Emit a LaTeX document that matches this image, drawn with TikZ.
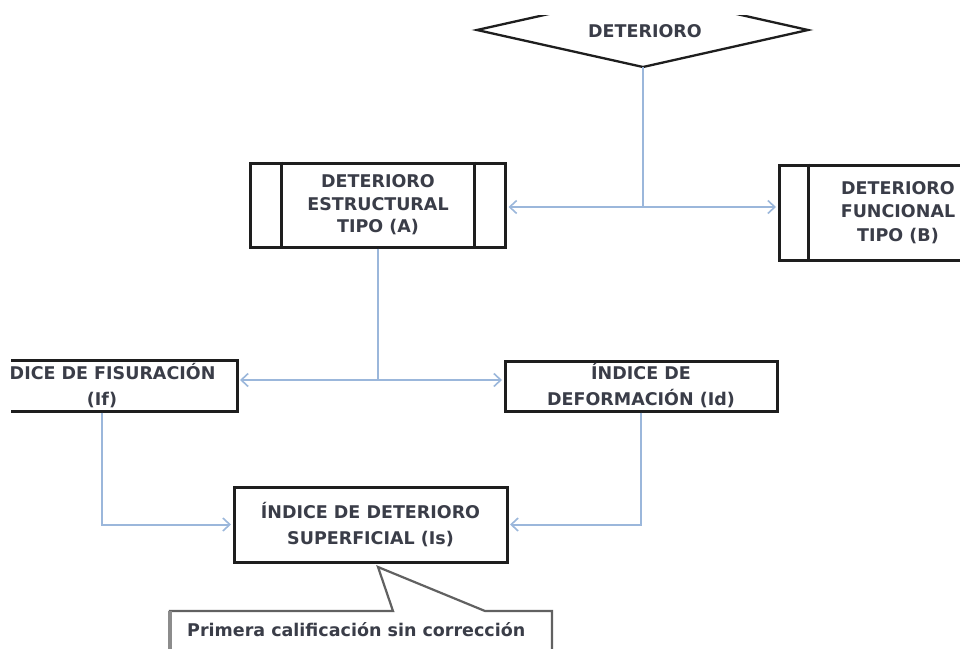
\documentclass[tikz,border=0pt]{standalone}
\usepackage{fontspec}
\setmainfont{DejaVu Sans}
\usetikzlibrary{arrows.meta}
\definecolor{conn}{HTML}{9BB7DB}
\definecolor{txt}{HTML}{3A3D48}
\definecolor{edge}{HTML}{1E1E1E}
\begin{document}
\begin{tikzpicture}[x=1pt,y=-1pt,
  box/.style={draw=edge, line width=3pt, rectangle, inner sep=0pt, align=center,
    text=txt, font=\bfseries\fontsize{17.5}{26}\selectfont},
  link/.style={draw=conn, line width=2pt},
  arr/.style={link, shorten >=1.5pt, -{Straight Barb[length=7pt,width=13pt,line width=1.6pt]}},
  lbl/.style={text=txt, font=\bfseries\fontsize{17.5}{24}\selectfont, inner sep=0pt}]
\useasboundingbox (0,0) rectangle (960,648);
\fill[white] (0,0) rectangle (960,648);
\begin{scope}
\clip (11,15) rectangle (960,648);
% decision diamond
\coordinate (dl) at (477,30);
\coordinate (dr) at (808,30);
\coordinate (db) at (643,67);
\coordinate (dt) at (643,-7);
\draw[line width=2.3pt, edge] (dl) -- (dt) -- (dr) -- (db) -- cycle;
\node[lbl] (det) at (645,31) {DETERIORO};
% type boxes
\node[box, minimum width=255, minimum height=84, font=\bfseries\fontsize{17.5}{22.5}\selectfont]
  (A) at (378,205) {DETERIORO\\ESTRUCTURAL\\TIPO (A)};
\draw[edge, line width=3pt] ([xshift=32pt]A.north west) -- ([xshift=32pt]A.south west);
\draw[edge, line width=3pt] ([xshift=-33pt]A.north east) -- ([xshift=-33pt]A.south east);
\node[box, minimum width=238, minimum height=95, font=\bfseries\fontsize{17.5}{23.5}\selectfont]
  (B) at (898,212.5) {DETERIORO\\FUNCIONAL\\TIPO (B)};
\draw[edge, line width=3pt] ([xshift=31pt]B.north west) -- ([xshift=31pt]B.south west);
\draw[edge, line width=3pt] ([xshift=-31pt]B.north east) -- ([xshift=-31pt]B.south east);
% index boxes
\node[box, minimum width=270, minimum height=51] (If) at (102,385.5) {ÍNDICE DE FISURACIÓN\\(If)};
\node[box, minimum width=272, minimum height=50] (Id) at (641,386) {ÍNDICE DE\\DEFORMACIÓN (Id)};
\node[box, minimum width=273, minimum height=75] (Is) at (370.5,524.5) {ÍNDICE DE DETERIORO\\SUPERFICIAL (Is)};
% connectors
\coordinate (j1) at (643,207);
\draw[link] (db) -- (j1);
\draw[arr] (j1) -- (j1 -| A.east);
\draw[arr] (j1) -- (j1 -| B.west);
\coordinate (j2) at (378,380);
\draw[link] (A.south) -- (j2);
\draw[arr] (j2) -- (j2 -| If.east);
\draw[arr] (j2) -- (j2 -| Id.west);
\draw[arr] (If.south) |- (Is.west);
\draw[arr] (Id.south) |- (Is.east);
% callout
\coordinate (tip) at (378,567);
\coordinate (cbl) at (170,660);
\coordinate (ctl) at (170,611);
\coordinate (cp1) at (393,611);
\coordinate (cp2) at (485,611);
\coordinate (ctr) at (552,611);
\coordinate (cbr) at (552,660);
\draw[line width=2.2pt, black!62, line join=miter] (cbl) -- (ctl) -- (cp1) -- (tip) -- (cp2) -- (ctr) -- (cbr);
\draw[line width=3.6pt, black!45] (cbl) -- (ctl);
\node[lbl, anchor=west] (cal) at (187,630) {Primera calificación sin corrección};
\end{scope}
\end{tikzpicture}
\end{document}
